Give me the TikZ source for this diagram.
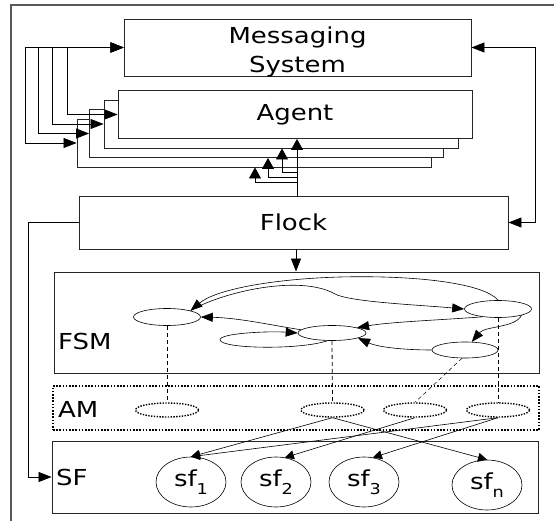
\documentclass[tikz,border=0pt]{standalone}
\usepackage{fontspec}
\setmainfont[FakeStretch=1.18]{DejaVu Sans}
\usetikzlibrary{arrows.meta,shapes.geometric}

\newcommand\lowsub[1]{\raisebox{-0.35em}{\fontsize{15}{15}\selectfont #1}}

\tikzset{
  box/.style={draw=black!85, line width=0.9pt, fill=white, inner sep=0pt,
    align=center, font=\fontsize{22}{29}\selectfont},
  dotbox/.style={box, draw=black, dash pattern=on 1.6pt off 1.6pt, line width=1.6pt},
  lbl/.style={anchor=west, inner sep=0pt, font=\fontsize{22}{22}\selectfont},
  link/.style={line width=0.8pt, black},
  tip/.style={link, -{Triangle[length=13pt,width=10pt]}},
  uptip/.style={link, -{Triangle[length=11pt,width=12pt]}},
  tips/.style={link, {Triangle[length=13pt,width=10pt]}-{Triangle[length=13pt,width=10pt]}},
  ftip/.style={line width=0.6pt, -{Triangle[length=12pt,width=9pt]}},
  mtip/.style={line width=0.6pt, -{Triangle[length=9pt,width=9pt]}},
  state/.style={draw, ellipse, line width=0.6pt, inner sep=0pt},
  amstate/.style={draw, ellipse, dash pattern=on 1.4pt off 1.4pt, line width=1.4pt,
    inner sep=0pt, minimum width=63pt, minimum height=14pt},
  sfstate/.style={draw, ellipse, line width=0.6pt, inner sep=0pt,
    minimum width=70pt, minimum height=50pt, font=\fontsize{22}{22}\selectfont},
  vdash/.style={line width=0.8pt, dash pattern=on 4pt off 3pt},
}

\begin{document}
\begin{tikzpicture}[x=1pt, y=-1pt]
\useasboundingbox (0,0) rectangle (554,521);

% frame edges
\draw[black!65, line width=1.3pt] (554,5) -- (11,5) -- (11,521);

% messaging system
\node[box, minimum width=347pt, minimum height=57pt] (msg) at (297.5,47.5) {};
\node[align=center, inner sep=0pt, font=\fontsize{22}{29}\selectfont] (msgtxt)
  at (297.5,52) {Messaging\\System};

% stack of agents, back to front
\node[box, minimum width=354pt, minimum height=48pt] (a3) at (254,143) {};
\node[box, minimum width=354pt, minimum height=48pt] (a2) at (266.5,133.5) {};
\node[box, minimum width=354pt, minimum height=48pt] (a1) at (281,124) {};
\node[box, minimum width=354pt, minimum height=48pt] (a0) at (295,114.5) {Agent};

% flock
\node[box, minimum width=429pt, minimum height=53pt] (flock) at (293.5,222.5) {Flock};

% layers
\node[box, minimum width=485pt, minimum height=101pt] (fsm) at (296.5,322.5) {};
\node[dotbox, minimum width=486pt, minimum height=44pt] (am) at (296,408) {};
\node[box, minimum width=486pt, minimum height=72pt] (sf) at (295,477) {};
\node[lbl] (fsmlbl) at (58,341) {FSM};
\node[lbl] (amlbl) at (58,409) {AM};
\node[lbl] (sflbl) at (56,477) {SF};

% agents <-> messaging system
\draw[tips] (msg.west) -- (25,47.5) |- (a3.west);
\draw[tips] (msg.west) -- (38,47.5) |- (a2.west);
\draw[tips] (msg.west) -- (52,47.5) |- (a1.west);
\draw[tips] (msg.west) -- (67,47.5) |- (a0.west);

% messaging system <-> flock
\draw[tips] (msg.east) -- (535,47.5) |- (flock.east);

% flock -> agents
\draw[uptip] (flock.north -| 297,0) -- (a0.south -| 297,0);
\draw[uptip] (297,172) -| (a1.south -| 282,0);
\draw[uptip] (297,177) -| (a2.south -| 268,0);
\draw[uptip] (297,182) -| (a3.south -| 255,0);

% flock -> fsm, flock -> sf
\draw[tip] (flock.south -| 296,0) -- (fsm.north -| 296,0);
\draw[tip] (flock.west) -- (28,222.5) |- (sf.west);

% FSM states
\node[state, minimum width=67pt, minimum height=17pt] (s1) at (167,317) {};
\node[state, minimum width=68pt, minimum height=15pt] (s2) at (332,333) {};
\node[state, minimum width=67pt, minimum height=17pt] (s3) at (498,309) {};
\node[state, minimum width=66pt, minimum height=16pt] (s4) at (465,350) {};

% FSM transitions
\draw[ftip] (s3.north) .. controls (485,284) and (420,275) .. (340,277)
  .. controls (270,279) and (215,290) .. (s1.15);
\draw[ftip] (s1.15) .. controls (222,292) and (300,274) .. (335,294)
  .. controls (350,302) and (420,305) .. (s3.west);
\draw[ftip] (s2.174) .. controls (270,325) and (240,318) .. (s1.east);
\draw[ftip] (s2.240) .. controls (300,350) and (222,349) .. (220,340)
  .. controls (219,333) and (270,331) .. (s2.west);
\draw[ftip] (s3.207) .. controls (440,320) and (390,322) .. (s2.12);
\draw[ftip] (s3.345) .. controls (515,328) and (485,326) .. (s4.50);
\draw[ftip] (s4.west) .. controls (410,350) and (380,348) .. (s2.349);

% AM states
\node[amstate] (am1) at (167,410) {};
\node[amstate] (am2) at (332.5,410) {};
\node[amstate] (am3) at (415,410) {};
\node[amstate] (am4) at (498,410) {};

% FSM -> AM mapping
\draw[vdash] (s1.south) -- (am1.north);
\draw[vdash] (s2.south) -- (am2.north);
\draw[vdash] (s3.south) -- (am4.north);
\draw[line width=0.5pt, dash pattern=on 4pt off 3pt] (s4.250) -- (am3.north);

% SF states
\node[sfstate] (sf1) at (191,482) {sf\lowsub{1}};
\node[sfstate] (sf2) at (276,482) {sf\lowsub{2}};
\node[sfstate] (sf3) at (364,482) {sf\lowsub{3}};
\node[sfstate] (sfn) at (487,485) {sf\lowsub{n}};

% AM -> SF mapping
\draw[mtip] (am2.south) -- (sf1.north);
\draw[mtip] (am4.south) -- (sf1.north);
\draw[mtip] (am3.south) -- (sf2.70);
\draw[mtip] (am4.south) -- (sf3.70);
\draw[mtip] (am2.south) -- (sfn.north);
\end{tikzpicture}
\end{document}
